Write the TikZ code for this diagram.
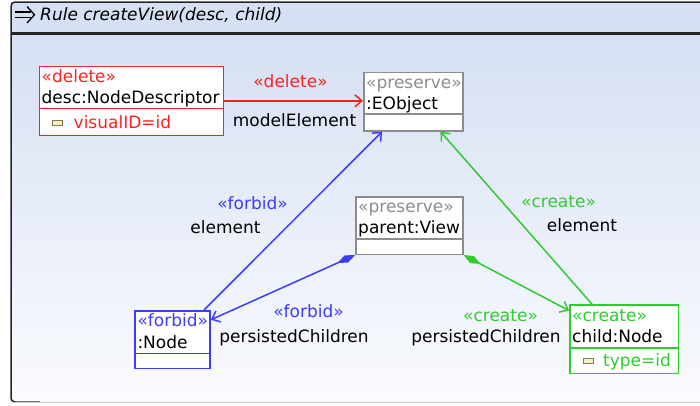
\documentclass[tikz,border=0pt]{standalone}
\usepackage{fontspec}
\setmainfont{DejaVu Sans}
\usetikzlibrary{arrows.meta,calc}
\definecolor{hred}{HTML}{FF2020}
\definecolor{hblue}{HTML}{3C3CFF}
\definecolor{hgreen}{HTML}{2ECC2E}
\definecolor{hgray}{HTML}{8C8C8C}
\definecolor{frametop}{HTML}{D6E0F3}
\definecolor{framebot}{HTML}{FAFBFE}
\definecolor{iconfill}{HTML}{F2F0C4}
\definecolor{iconedge}{HTML}{857A45}
\begin{document}
\begin{tikzpicture}[x=1pt,y=-1pt,
  font=\fontsize{17}{20}\selectfont,
  box/.style={draw, fill=white, line width=1.6pt, inner sep=0pt, anchor=north west},
  txt/.style={anchor=base west, inner sep=0pt},
  lbl/.style={anchor=base, inner sep=0pt},
  attricon/.style={draw=iconedge, fill=iconfill, line width=0.9pt, minimum width=10pt,
                   minimum height=5pt, inner sep=0pt, anchor=west},
  link/.style={line width=1.5pt, -{Straight Barb[length=7pt,width=12pt]}},
  comp/.style={line width=1.5pt, {Diamond[length=19pt,width=8pt]}-{Straight Barb[length=7pt,width=12pt]}},
  sep/.style={line width=1.6pt}]
\useasboundingbox (0,0) rectangle (700,405);

% rule frame: header band and shaded body
\fill[frametop] (11,2) rectangle (712,34);
\shade[top color=frametop, bottom color=framebot] (11,34) rectangle (712,402);
\draw[black!85, line width=1.5pt, rounded corners=4pt] (712,2) -- (11,2) -- (11,402) -- (40,402);
\draw[black!20, line width=1pt] (14,402.5) -- (712,402.5);
\draw[black!85, line width=2.2pt] (11,33.5) -- (712,33.5);

% header: rule icon and title
\draw[line width=1.3pt] (15,12) -- (31,12) (15,17.5) -- (31,17.5);
\draw[line width=1.3pt] (27,6.5) -- (34.5,14.75) -- (27,23);
\node[txt, font=\fontsize{17}{20}\selectfont\itshape] (title) at (40,20.5) {Rule createView(desc, child)};

% desc:NodeDescriptor
\node[box, draw=hred, minimum width=184pt, minimum height=69pt] (desc) at (38.5,65.5) {};
\draw[sep, hred] (desc.west |- 0,108.3) -- (desc.east |- 0,108.3);
\node[txt, text=hred] (descst) at (41.5,82.5) {«delete»};
\node[txt] (descnm) at (41.5,103.5) {desc:NodeDescriptor};
\node[attricon] (descic) at (52,122.5) {};
\node[txt, text=hred] (descat) at (73.5,128) {visualID=id};

% :EObject
\node[box, draw=hgray, minimum width=99pt, minimum height=58.5pt] (eobj) at (363,71.5) {};
\draw[sep, hgray] (eobj.west |- 0,114) -- (eobj.east |- 0,114);
\node[txt, text=hgray] (eobjst) at (366,88.5) {«preserve»};
\node[txt] (eobjnm) at (366,109.5) {:EObject};

% parent:View
\node[box, draw=hgray, minimum width=107pt, minimum height=57.5pt] (parent) at (355,196) {};
\draw[sep, hgray] (parent.west |- 0,239) -- (parent.east |- 0,239);
\node[txt, text=hgray] (parentst) at (358,212) {«preserve»};
\node[txt] (parentnm) at (358,233.5) {parent:View};

% :Node (forbidden)
\node[box, draw=hblue, minimum width=75pt, minimum height=57.5pt] (fnode) at (134.3,310) {};
\draw[sep, hblue] (fnode.west |- 0,353.3) -- (fnode.east |- 0,353.3);
\node[txt, text=hblue] (fnodest) at (137.3,326.5) {«forbid»};
\node[txt] (fnodenm) at (137.3,348) {:Node};

% child:Node (created)
\node[box, draw=hgreen, minimum width=108.7pt, minimum height=68.3pt] (child) at (569,304.3) {};
\draw[sep, hgreen] (child.west |- 0,347.7) -- (child.east |- 0,347.7);
\node[txt, text=hgreen] (childst) at (572,321.5) {«create»};
\node[txt] (childnm) at (572,342) {child:Node};
\node[attricon] (childic) at (583,360.5) {};
\node[txt, text=hgreen] (childat) at (603,366) {type=id};

% modelElement
\draw[link, hred] (desc.east) -- (desc.east -| eobj.west);
\node[lbl, text=hred] (l1a) at (290.5,87) {«delete»};
\node[lbl] (l1b) at (294.5,126) {modelElement};

% element (forbidden)
\draw[link, hblue] ($(fnode.north west)!0.91!(fnode.north east)$) -- ($(eobj.south west)!0.19!(eobj.south east)$);
\node[lbl, text=hblue] (l2a) at (252.5,209) {«forbid»};
\node[lbl] (l2b) at (225.5,233) {element};

% element (created)
\draw[link, hgreen] ($(child.north west)!0.21!(child.north east)$) -- ($(eobj.south west)!0.77!(eobj.south east)$);
\node[lbl, text=hgreen] (l3a) at (558.5,207) {«create»};
\node[lbl] (l3b) at (582,231) {element};

% persistedChildren (forbidden)
\draw[comp, hblue] (parent.south west) -- ($(fnode.north east)!0.165!(fnode.south east)$);
\node[lbl, text=hblue] (l4a) at (308.5,317) {«forbid»};
\node[lbl] (l4b) at (294,342) {persistedChildren};

% persistedChildren (created)
\draw[comp, hgreen] (parent.south east) -- ($(child.north west)!0.09!(child.south west)$);
\node[lbl, text=hgreen] (l5a) at (500.5,321) {«create»};
\node[lbl] (l5b) at (486,342) {persistedChildren};
\end{tikzpicture}
\end{document}
